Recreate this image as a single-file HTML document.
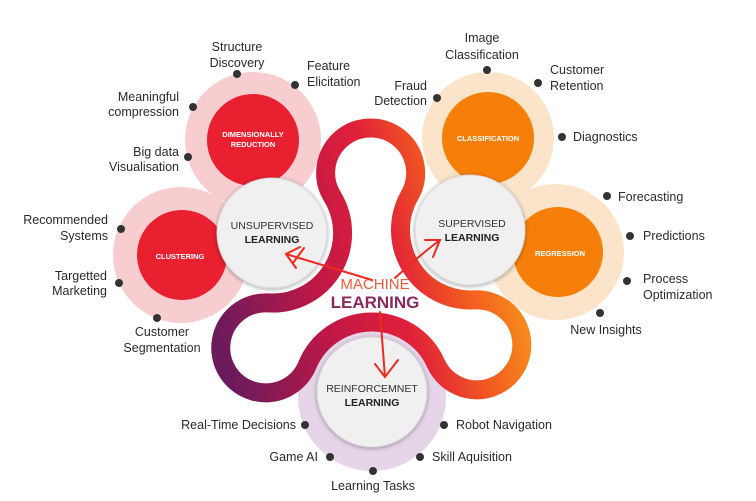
<!DOCTYPE html>
<html><head><meta charset="utf-8"><style>
html,body{margin:0;padding:0;background:#fff;}
svg{display:block;font-family:"Liberation Sans",sans-serif;}
.l{font-size:12.5px;fill:#2a2a2a;}
.h{font-size:7.5px;font-weight:bold;fill:#fff;}
.m{font-size:10.5px;fill:#333;}
.mb{font-size:10.5px;fill:#222;font-weight:bold;}
</style></head><body>
<svg width="756" height="501" viewBox="0 0 756 501" xmlns="http://www.w3.org/2000/svg">
<defs>
<linearGradient id="g" x1="230" y1="380" x2="530" y2="300" gradientUnits="userSpaceOnUse">
<stop offset="0" stop-color="#6b1a5c"/><stop offset="0.35" stop-color="#c01845"/><stop offset="0.6" stop-color="#e0203a"/><stop offset="0.8" stop-color="#f25a20"/><stop offset="1" stop-color="#f7941d"/>
</linearGradient>
<filter id="sh" x="-20%" y="-20%" width="140%" height="140%"><feDropShadow dx="0" dy="1" stdDeviation="2" flood-color="#000" flood-opacity="0.35"/></filter>
</defs>
<rect width="756" height="501" fill="#fff"/>
<circle cx="253" cy="140" r="68" fill="#f8cdd0"/>
<circle cx="181" cy="255" r="68" fill="#f8cdd0"/>
<circle cx="488" cy="138" r="66" fill="#fbe4ca"/>
<circle cx="556" cy="252" r="68" fill="#fbe4ca"/>
<circle cx="372" cy="397" r="74" fill="#e6d5e8"/>
<circle cx="253" cy="140" r="46" fill="#e8202f"/>
<circle cx="182" cy="255" r="45" fill="#e8202f"/>
<circle cx="488" cy="138" r="46" fill="#f67f0a"/>
<circle cx="558" cy="252" r="45" fill="#f67f0a"/>
<text class="h" x="253" y="137" text-anchor="middle">DIMENSIONALLY</text>
<text class="h" x="253" y="147" text-anchor="middle">REDUCTION</text>
<text class="h" x="180" y="259" text-anchor="middle">CLUSTERING</text>
<text class="h" x="488" y="141" text-anchor="middle">CLASSIFICATION</text>
<text class="h" x="560" y="256" text-anchor="middle">REGRESSION</text>
<path d="M332.3,196.5 A45,45 0 1 1 409.7,195.3 A70,70 0 0 0 474.1,299.9 A45,45 0 1 1 435.8,363.3 A70,70 0 0 0 307.3,365.1 A45,45 0 1 1 268.2,302.9 A70,70 0 0 0 332.3,196.5 Z" fill="none" stroke="url(#g)" stroke-width="19"/>
<circle cx="272" cy="233" r="55" fill="#f0f0f0" stroke="#d8d8d8" filter="url(#sh)"/>
<circle cx="470" cy="230" r="55" fill="#f0f0f0" stroke="#d8d8d8" filter="url(#sh)"/>
<circle cx="372" cy="392" r="55" fill="#f0f0f0" stroke="#d8d8d8" filter="url(#sh)"/>
<text class="m" x="272" y="229" text-anchor="middle">UNSUPERVISED</text>
<text class="mb" x="272" y="243" text-anchor="middle">LEARNING</text>
<text class="m" x="472" y="227" text-anchor="middle">SUPERVISED</text>
<text class="mb" x="472" y="241" text-anchor="middle">LEARNING</text>
<text class="m" x="372" y="392" text-anchor="middle">REINFORCEMNET</text>
<text class="mb" x="372" y="406" text-anchor="middle">LEARNING</text>
<text x="375" y="289" text-anchor="middle" font-size="15" fill="#ee5a3a">MACHINE</text>
<text x="375" y="308" text-anchor="middle" font-size="17" font-weight="bold" fill="#8a2a5c">LEARNING</text>
<g fill="none" stroke="#f0281e" stroke-width="2" stroke-linecap="round">
<path d="M372,280 L286,254 M300,247 L286,254 L296,268 M304,248 L293,263"/>
<path d="M395,278 Q420,255 440,240 M425,240 L440,240 L433,257"/>
<path d="M380,312 L385,377 M375,364 L385,377 L398,360"/>
</g>
<g fill="#333">
<circle cx="237" cy="74" r="4"/><circle cx="295" cy="85" r="4"/><circle cx="193" cy="107" r="4"/><circle cx="188" cy="157" r="4"/>
<circle cx="121" cy="229" r="4"/><circle cx="119" cy="283" r="4"/><circle cx="157" cy="318" r="4"/>
<circle cx="487" cy="70" r="4"/><circle cx="437" cy="98" r="4"/><circle cx="538" cy="83" r="4"/><circle cx="562" cy="137" r="4"/>
<circle cx="607" cy="196" r="4"/><circle cx="630" cy="236" r="4"/><circle cx="627" cy="281" r="4"/><circle cx="600" cy="313" r="4"/>
<circle cx="305" cy="425" r="4"/><circle cx="444" cy="425" r="4"/><circle cx="330" cy="457" r="4"/><circle cx="420" cy="457" r="4"/><circle cx="373" cy="471" r="4"/>
</g>
<g class="l">
<text x="237" y="51" text-anchor="middle" class="l">Structure</text><text x="237" y="67" text-anchor="middle" class="l">Discovery</text>
<text x="307" y="70" class="l">Feature</text><text x="307" y="86" class="l">Elicitation</text>
<text x="179" y="101" text-anchor="end" class="l">Meaningful</text><text x="179" y="116" text-anchor="end" class="l">compression</text>
<text x="179" y="156" text-anchor="end" class="l">Big data</text><text x="179" y="171" text-anchor="end" class="l">Visualisation</text>
<text x="108" y="224" text-anchor="end" class="l">Recommended</text><text x="108" y="240" text-anchor="end" class="l">Systems</text>
<text x="107" y="280" text-anchor="end" class="l">Targetted</text><text x="107" y="295" text-anchor="end" class="l">Marketing</text>
<text x="162" y="336" text-anchor="middle" class="l">Customer</text><text x="162" y="352" text-anchor="middle" class="l">Segmentation</text>
<text x="482" y="42" text-anchor="middle" class="l">Image</text><text x="482" y="59" text-anchor="middle" class="l">Classification</text>
<text x="427" y="90" text-anchor="end" class="l">Fraud</text><text x="427" y="105" text-anchor="end" class="l">Detection</text>
<text x="550" y="74" class="l">Customer</text><text x="550" y="90" class="l">Retention</text>
<text x="573" y="141" class="l">Diagnostics</text>
<text x="618" y="201" class="l">Forecasting</text>
<text x="643" y="240" class="l">Predictions</text>
<text x="643" y="283" class="l">Process</text><text x="643" y="299" class="l">Optimization</text>
<text x="606" y="334" text-anchor="middle" class="l">New Insights</text>
<text x="296" y="429" text-anchor="end" class="l">Real-Time Decisions</text>
<text x="456" y="429" class="l">Robot Navigation</text>
<text x="318" y="461" text-anchor="end" class="l">Game AI</text>
<text x="432" y="461" class="l">Skill Aquisition</text>
<text x="373" y="490" text-anchor="middle" class="l">Learning Tasks</text>
</g>
</svg>
</body></html>
